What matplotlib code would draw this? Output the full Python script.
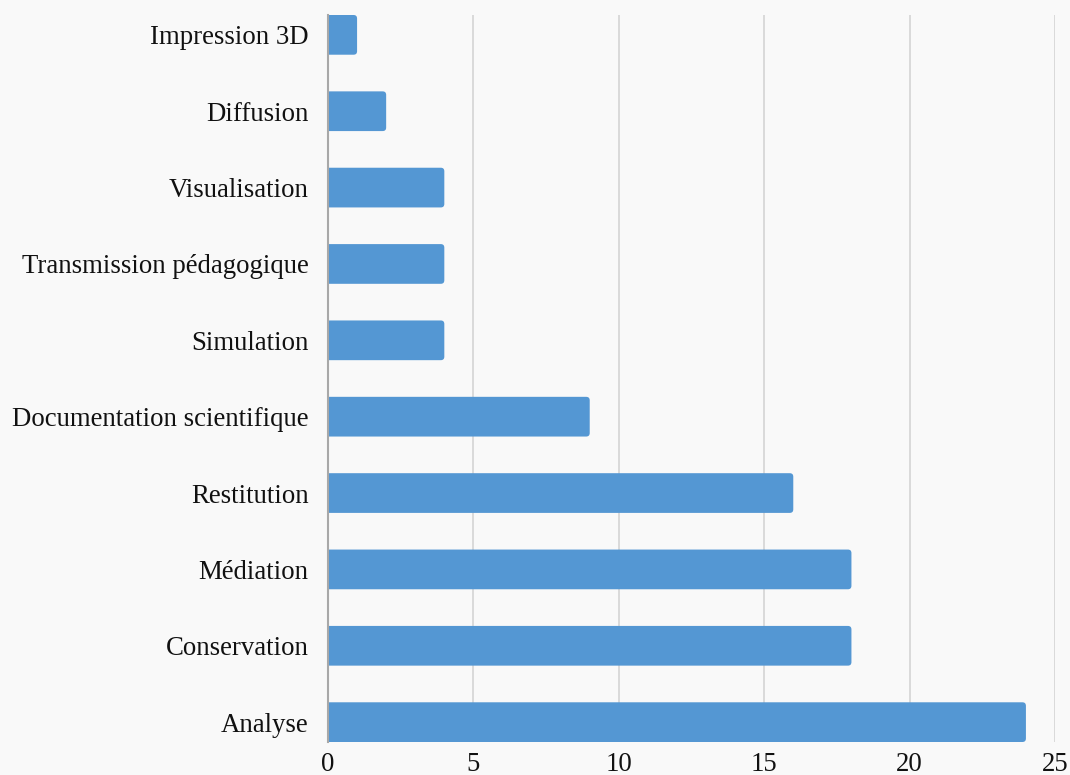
import matplotlib
matplotlib.use("Agg")
import matplotlib.pyplot as plt
from matplotlib.patches import FancyBboxPatch

categories = ["Analyse", "Conservation", "Médiation", "Restitution",
              "Documentation scientifique", "Simulation",
              "Transmission pédagogique", "Visualisation", "Diffusion",
              "Impression 3D"]
values = [24, 18, 18, 16, 9, 4, 4, 4, 2, 1]
xticks = [0, 5, 10, 15, 20, 25]

BG = "#f9f9f9"
BAR = "#5497d3"

plt.rcParams["font.family"] = ["Liberation Serif", "DejaVu Serif"]

W, H = 1070, 775
fig = plt.figure(figsize=(W / 100, H / 100), dpi=100, facecolor=BG)
left, right, top, bottom = 328, 1055, 15, 742
ax = fig.add_axes([left / W, 1 - bottom / H, (right - left) / W, (bottom - top) / H])
ax.set_facecolor(BG)

bar_h = 0.52
ax.set_xlim(0, 25)
ax.set_ylim(-bar_h / 2, len(categories) - 1 + bar_h / 2)

px_x = (right - left) / 25
px_y = (bottom - top) / (len(categories) - 1 + bar_h)
r_px = 3.5
rs = r_px / px_x
aspect = px_x / px_y

for i, v in enumerate(values):
    p = FancyBboxPatch((-rs * 2, i - bar_h / 2), v + rs * 2, bar_h,
                       boxstyle=f"round,pad=0,rounding_size={rs}",
                       mutation_aspect=aspect, facecolor=BAR,
                       edgecolor="none", zorder=3, clip_on=True)
    ax.add_patch(p)

FS = 19.3
ax.set_yticks(range(len(categories)))
ax.set_yticklabels(categories, fontsize=FS, color="#111111")
ax.set_xticks(xticks)
ax.set_xticklabels([str(t) for t in xticks], fontsize=FS, color="#111111")
ax.tick_params(axis="both", length=0)
ax.tick_params(axis="y", pad=14)
ax.tick_params(axis="x", pad=7)

for t in xticks[1:]:
    ax.axvline(t, color="#d4d4d4", linewidth=1.2, zorder=1)

for s in ["top", "right", "bottom"]:
    ax.spines[s].set_visible(False)
ax.spines["left"].set_color("#a8a8a8")
ax.spines["left"].set_linewidth(1.5)
ax.spines["left"].set_zorder(4)

fig.savefig("out.png", dpi=100, facecolor=BG)
